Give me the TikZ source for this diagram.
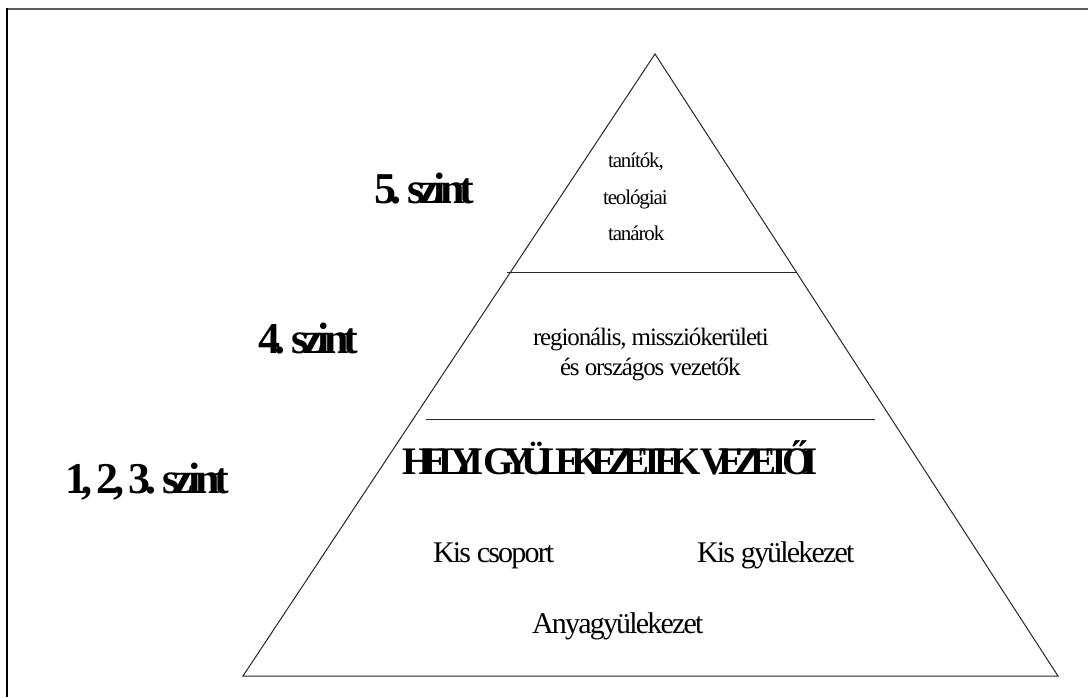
\documentclass[tikz,border=0pt]{standalone}
\usepackage{fontspec}
\setmainfont{Liberation Serif}
\newfontfamily\trackA[LetterSpace=-12,WordSpace=0.7]{Liberation Serif}
\newfontfamily\trackH[LetterSpace=-26,WordSpace=0.8]{Liberation Serif}
\newfontfamily\trackB[LetterSpace=-6]{Liberation Serif}
\newfontfamily\trackC[LetterSpace=-4.5]{Liberation Serif}
\newfontfamily\trackD[LetterSpace=-5.3]{Liberation Serif}
\begin{document}
\begin{tikzpicture}[x=1pt,y=-1pt,
  txt/.style={anchor=base west,inner sep=0pt,outer sep=0pt},
  lvl/.style={txt,font=\trackA\fontsize{44}{44}\selectfont\bfseries},
  head/.style={txt,font=\trackH\fontsize{39}{39}\selectfont\bfseries},
  big/.style={txt,font=\trackB\fontsize{30}{30}\selectfont},
  mid/.style={txt,font=\trackC\fontsize{25}{25}\selectfont},
  small/.style={txt,font=\trackD\fontsize{21}{21}\selectfont},
  edge/.style={line width=1pt,draw=black!85}]
\useasboundingbox (0,0) rectangle (1088,697);
% frame
\draw[line width=2pt,draw=black!65] (6,9) -- (1088,9);
\draw[line width=1.5pt] (7,8) -- (7,697);
% triangle
\coordinate (A) at (655,54);
\coordinate (BL) at (243,676);
\coordinate (BR) at (1058,676);
\draw[edge] (A) -- (BL) -- (BR) -- cycle;
\coordinate (l1a) at (507,272);
\coordinate (l1b) at (796,272);
\coordinate (l2a) at (426,419);
\coordinate (l2b) at (875,419);
\draw[edge] (l1a) -- (l1b);
\draw[edge] (l2a) -- (l2b);
% level labels
\node[lvl] (s5) at (374,203) {5. szint};
\node[lvl] (s4) at (258,353) {4. szint};
\node[lvl] (s123) at (65,493) {1, 2, 3. szint};
% top
\node[small] (t1) at (608,167) {tanítók,};
\node[small] (t2) at (603,204) {teológiai};
\node[small] (t3) at (608,240) {tanárok};
% middle
\node[mid] (m1) at (533,345) {regionális, missziókerületi};
\node[mid] (m2) at (560,375) {és országos vezetők};
% bottom
\node[head] (h) at (402,474) {HELYI GYÜLEKEZETEK VEZETŐI};
\node[big] (k1) at (433,562) {Kis csoport};
\node[big] (k2) at (697,562) {Kis gyülekezet};
\node[big] (k3) at (532,633) {Anyagyülekezet};
\end{tikzpicture}
\end{document}
